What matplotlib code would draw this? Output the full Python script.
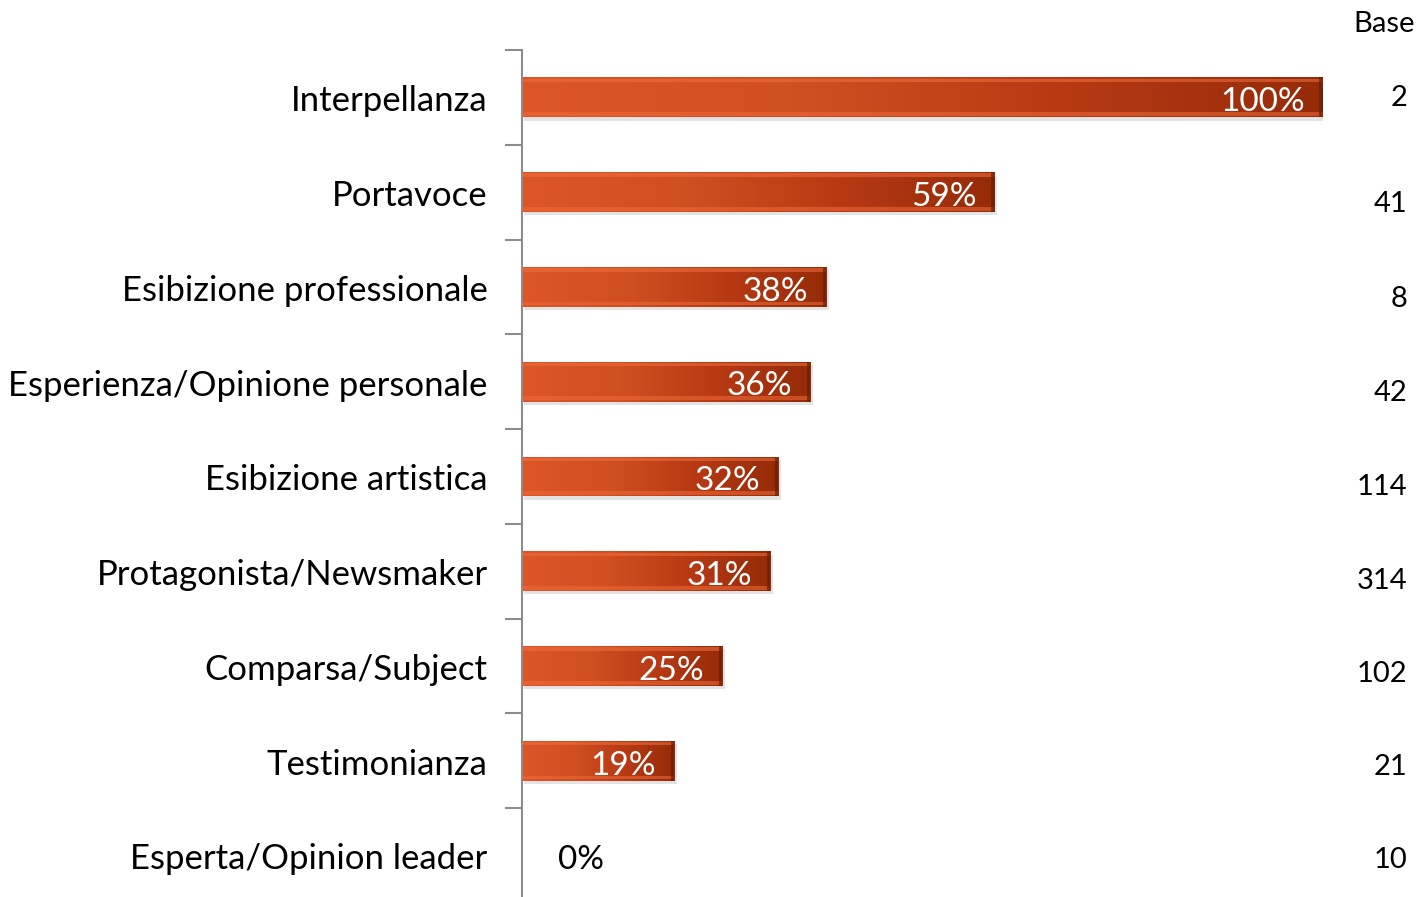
import numpy as np
import matplotlib.pyplot as plt
from matplotlib.colors import LinearSegmentedColormap

plt.rcParams['font.family'] = ['Lato', 'DejaVu Sans']

categories = ["Interpellanza", "Portavoce", "Esibizione professionale",
              "Esperienza/Opinione personale", "Esibizione artistica",
              "Protagonista/Newsmaker", "Comparsa/Subject", "Testimonianza",
              "Esperta/Opinion leader"]
values = [100, 59, 38, 36, 32, 31, 25, 19, 0]
bases = ["2", "41", "8", "42", "114", "314", "102", "21", "10"]

W, H = 1420, 897
fig = plt.figure(figsize=(W / 100, H / 100), dpi=100)
ax = fig.add_axes([522 / W, 1 - 903 / H, (1323 - 522) / W, (903 - 50) / H])

n = len(categories)
ypos = np.arange(n)
ax.set_ylim(n - 0.5, -0.5)
ax.set_xlim(0, 100)

cmap = LinearSegmentedColormap.from_list("org", ["#dc5628", "#d24f22", "#b83a14", "#962b08"])
grad = np.linspace(0, 1, 256).reshape(1, -1)
bh = 0.42

bars = ax.barh(ypos, values, height=bh, color="none", edgecolor="none")
for b, v, y in zip(bars, values, ypos):
    if v <= 0:
        ax.text(4.5, y + 0.05, "0%", va="center", ha="left", fontsize=24, color="black")
        continue
    # shadow
    ax.barh(y + 0.035, v, height=bh, left=0.3, color="#b0b0b0", alpha=0.35, zorder=1)
    im = ax.imshow(grad, cmap=cmap, aspect="auto", extent=(0, v, y + bh / 2, y - bh / 2), zorder=2)
    im.set_clip_path(b)
    # bevel highlights
    ax.barh(y - bh / 2 + 0.03, v, height=0.035, color="#f07040", alpha=0.55, zorder=3)
    ax.barh(y + bh / 2 - 0.035, v, height=0.04, color="#f06a38", alpha=0.55, zorder=3)
    ax.barh(y, 0.45, left=v - 0.45, height=bh, color="#6e1e04", alpha=0.7, zorder=3)
    ax.text(v - 2.3, y + 0.05, f"{v}%", va="center", ha="right", fontsize=24, color="white", zorder=4)

ax.set_yticks(np.arange(n + 1) - 0.5)
ax.set_yticklabels([])
ax.tick_params(axis="y", length=12, width=1.5, color="#8c8c8c", direction="out")
ax.tick_params(axis="x", bottom=False, labelbottom=False)
for s in ["top", "right", "bottom"]:
    ax.spines[s].set_visible(False)
ax.spines["left"].set_color("#8c8c8c")
ax.spines["left"].set_linewidth(1.5)

for y, c in zip(ypos, categories):
    ax.text(-4.3, y + 0.04, c, ha="right", va="center", fontsize=25, color="black")

fig.text(1415 / W, 1 - 24 / H, "Base", ha="right", va="center", fontsize=21)
base_y = [98, 204, 299, 393, 487, 581, 674, 767, 860]
for by, bs in zip(base_y, bases):
    fig.text(1407 / W, 1 - by / H, bs, ha="right", va="center", fontsize=21)

fig.savefig("out.png", dpi=100)
